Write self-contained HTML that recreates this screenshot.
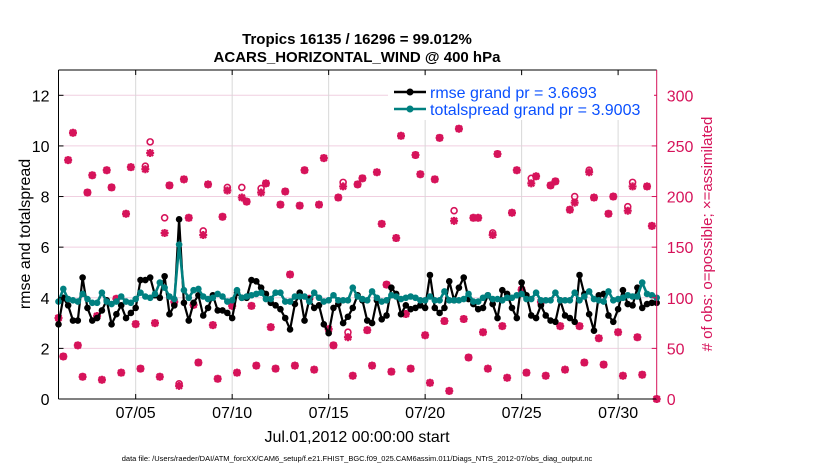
<!DOCTYPE html>
<html><head><meta charset="utf-8">
<style>
body{margin:0;background:#fff;}
svg{display:block;font-family:"Liberation Sans",Arial,sans-serif;}
</style></head>
<body>
<svg id="chart" width="830" height="470" viewBox="0 0 830 470" xmlns="http://www.w3.org/2000/svg">
<text x="357" y="44" text-anchor="middle" font-size="15" font-weight="bold">Tropics 16135 / 16296 = 99.012%</text>
<text x="357" y="62" text-anchor="middle" font-size="15" font-weight="bold">ACARS_HORIZONTAL_WIND @ 400 hPa</text>
<g id="grid"></g>
<g id="obs"></g>
<g id="lines"></g>
<g id="axes"></g>
<text transform="translate(30,234) rotate(-90)" text-anchor="middle" font-size="16">rmse and totalspread</text>
<text transform="translate(712,234) rotate(-90)" text-anchor="middle" font-size="15" fill="#d6135a"># of obs: o=possible; ×=assimilated</text>
<text x="357" y="442" text-anchor="middle" font-size="16">Jul.01,2012 00:00:00 start</text>
<text x="357" y="461" text-anchor="middle" font-size="7.5">data file: /Users/raeder/DAI/ATM_forcXX/CAM6_setup/f.e21.FHIST_BGC.f09_025.CAM6assim.011/Diags_NTrS_2012-07/obs_diag_output.nc</text>
<g>
<rect x="388" y="76" width="266" height="44" fill="#fff"/>
<g>
<line x1="394" y1="92" x2="426" y2="92" stroke="#000" stroke-width="2.5"/><circle cx="410" cy="92" r="3.5" fill="#000"/>
<text x="430" y="98" font-size="16" fill="#0a50ff">rmse grand pr = 3.6693</text></g>
<g>
<line x1="394" y1="109" x2="426" y2="109" stroke="#008080" stroke-width="2.5"/><circle cx="410" cy="109" r="3.5" fill="#008080"/>
<text x="430" y="115" font-size="16" fill="#0a50ff">totalspread grand pr = 3.9003</text></g>
</g>
</svg>
<script>
const rmse=[2.95,4.0,3.7,3.1,3.1,4.8,3.6,3.1,3.2,3.5,3.9,2.95,3.35,3.7,3.2,3.4,3.6,4.7,4.7,4.8,4.1,4.0,4.85,3.35,3.7,7.1,
3.8,3.1,3.8,4.1,3.3,3.6,4.1,3.5,3.5,3.4,3.2,4.2,4.0,4.0,4.7,
4.65,4.4,4.15,3.8,3.7,3.55,3.2,2.75,3.75,4.2,3.1,3.95,3.6,3.7,2.95,2.6,3.6,3.75,3.0,3.25,3.6,4.1,3.9,3.1,3.0,3.9,3.15,3.3,4.4,4.15,3.35,3.7,3.55,3.6,3.7,3.6,4.9,3.6,3.4,3.6,4.65,3.9,
4.4,4.8,3.95,3.75,3.55,3.6,4.1,3.75,3.2,4.3,4.15,3.6,3.2,4.6,4.1,3.3,3.2,3.7,3.3,3.1,3.05,3.9,3.3,3.2,3.05,4.9,4.15,3.35,2.7,4.1,4.15,3.3,3.05,3.55,4.3,3.75,3.7,4.4,3.6,3.75,3.8,3.8];
const spread=[3.85,4.35,3.95,3.9,3.85,4.15,3.95,3.8,3.8,4.2,3.85,3.75,3.85,4.05,3.85,3.8,3.95,4.2,4.05,4.0,4.15,4.6,4.4,4.05,3.95,6.1,
4.3,4.0,4.3,4.35,4.05,3.95,4.0,4.15,4.05,3.85,3.9,4.3,4.0,4.05,4.1,
4.15,4.2,3.95,3.95,4.2,4.2,3.85,3.85,4.05,4.05,4.05,3.85,4.2,4.0,3.85,3.9,4.1,3.9,3.9,3.9,4.4,4.05,3.95,3.9,4.25,4.0,3.85,3.9,4.1,4.05,3.95,4.0,4.05,4.0,3.9,3.9,4.05,3.9,3.9,4.25,3.9,3.9,
3.9,3.95,4.15,3.85,3.85,4.0,4.1,3.95,3.95,3.9,4.0,4.0,4.1,4.15,3.95,3.95,4.2,3.9,3.9,3.9,4.2,3.9,3.9,3.9,4.2,3.9,4.05,4.25,3.95,3.9,3.85,4.25,3.9,3.95,4.0,4.1,4.05,4.05,4.6,4.15,4.1,4.0];
const nAssim=[80,42,236,263,53,22,204,221,82,19,226,209,99,26,183,229,74,30,227,243,75,22,164,211,96,13,217,179,93,36,
162,212,73,20,180,206,92,26,199,195,92,33,204,213,71,30,192,205,123,33,191,226,99,29,192,238,69,53,199,210,
61,23,212,218,68,33,224,173,113,27,159,260,84,30,241,222,63,16,217,258,77,8,176,267,79,41,179,179,66,30,
162,242,72,21,184,226,108,26,213,220,96,23,211,215,72,29,187,194,72,36,224,199,60,34,183,200,66,23,186,210,61,24,210,171,0];
const nPoss=[80,42,236,263,53,22,204,221,82,19,226,209,99,26,183,229,74,30,230,254,75,22,179,211,96,15,217,179,93,36,
166,212,73,20,180,209,92,26,209,195,92,33,208,213,71,30,192,205,123,33,191,226,99,29,192,238,69,53,199,214,
66,23,212,218,68,33,224,173,113,27,159,260,84,30,241,222,63,16,217,258,77,8,186,267,79,41,179,179,66,30,
164,242,72,21,184,226,108,26,218,220,96,23,211,215,72,29,187,200,72,36,226,199,60,34,183,200,66,23,190,214,61,24,210,171,0];
const stepDays=0.25;
const xTickDays=[4,9,14,19,24,29];
const xTickLabels=["07/05","07/10","07/15","07/20","07/25","07/30"];
const yTicksLeft=[0,2,4,6,8,10,12];
const yTicksRight=[0,50,100,150,200,250,300];

const X0=58.5,X1=656.7,Y0=399,Y1=70;
const xs=d=>X0+(d/31)*(X1-X0);
const yl=v=>Y0-(v/13)*(Y0-Y1);
const yr=v=>Y0-(v/325)*(Y0-Y1);
const NS="http://www.w3.org/2000/svg";
function mk(tag,attrs,parent){const e=document.createElementNS(NS,tag);for(const k in attrs)e.setAttribute(k,attrs[k]);parent.appendChild(e);return e;}
const grid=document.getElementById('grid'),axes=document.getElementById('axes'),obs=document.getElementById('obs'),lines=document.getElementById('lines');
const RED="#d6135a";

yTicksLeft.forEach(v=>{
  if(v>0){const g=mk('line',{x1:X0,x2:X1,y1:yl(v),y2:yl(v),stroke:"#f0cfe0","stroke-width":1},grid);
  
  }
  const t=mk('text',{x:X0-9,y:yl(v)+6,"text-anchor":"end","font-size":16},axes);t.textContent=v;
  
  
  mk('line',{x1:X0,x2:X0+5,y1:yl(v),y2:yl(v),stroke:"#000"},axes);
});
yTicksRight.forEach(v=>{
  const t=mk('text',{x:X1+10,y:yr(v)+6,"font-size":16,fill:RED},axes);t.textContent=v;
  
  
  mk('line',{x1:X1-5,x2:X1,y1:yr(v),y2:yr(v),stroke:RED},axes);
});
xTickDays.forEach((d,i)=>{
  const g=mk('line',{x1:xs(d),x2:xs(d),y1:Y1,y2:Y0,stroke:"#d8d8d8","stroke-width":1},grid);
  
  
  mk('line',{x1:xs(d),x2:xs(d),y1:Y0,y2:Y0-5,stroke:"#000"},axes);
  mk('line',{x1:xs(d),x2:xs(d),y1:Y1,y2:Y1+5,stroke:"#000"},axes);
  const t=mk('text',{x:xs(d),y:418,"text-anchor":"middle","font-size":16},axes);t.textContent=xTickLabels[i];
  
  
});
mk('line',{x1:X0,x2:X1,y1:Y1,y2:Y1,stroke:"#000"},axes);
mk('line',{x1:X0,x2:X1,y1:Y0,y2:Y0,stroke:"#000"},axes);
mk('line',{x1:X0,x2:X0,y1:Y1,y2:Y0,stroke:"#000"},axes);
mk('line',{x1:X1,x2:X1,y1:Y1,y2:Y0,stroke:RED},axes);

nPoss.forEach((v,i)=>{
  const c=mk('circle',{cx:xs(i*stepDays),cy:yr(v),r:3,fill:"none",stroke:RED,"stroke-width":1.6},obs);
  
  
});
nAssim.forEach((v,i)=>{
  const x=xs(i*stepDays),y=yr(v),s=4;
  const p=mk('path',{d:`M${x-s} ${y}H${x+s}M${x} ${y-s}V${y+s}M${x-3} ${y-3}L${x+3} ${y+3}M${x-3} ${y+3}L${x+3} ${y-3}`,stroke:RED,"stroke-width":2.2},obs);
  
  
});
function series(arr,color,name,w){
  const pts=arr.map((v,i)=>`${xs(i*stepDays).toFixed(1)},${yl(v).toFixed(1)}`).join(' ');
  const pl=mk('polyline',{points:pts,fill:"none",stroke:color,"stroke-width":w,"stroke-linejoin":"round"},lines);
  
  
  arr.forEach((v,i)=>{
    const c=mk('circle',{cx:xs(i*stepDays),cy:yl(v),r:3.3,fill:color},lines);
    
    
  });
}
series(rmse,"#000","rmse",2.2);
series(spread,"#008080","totalspread",2.6);
</script>
</body></html>
